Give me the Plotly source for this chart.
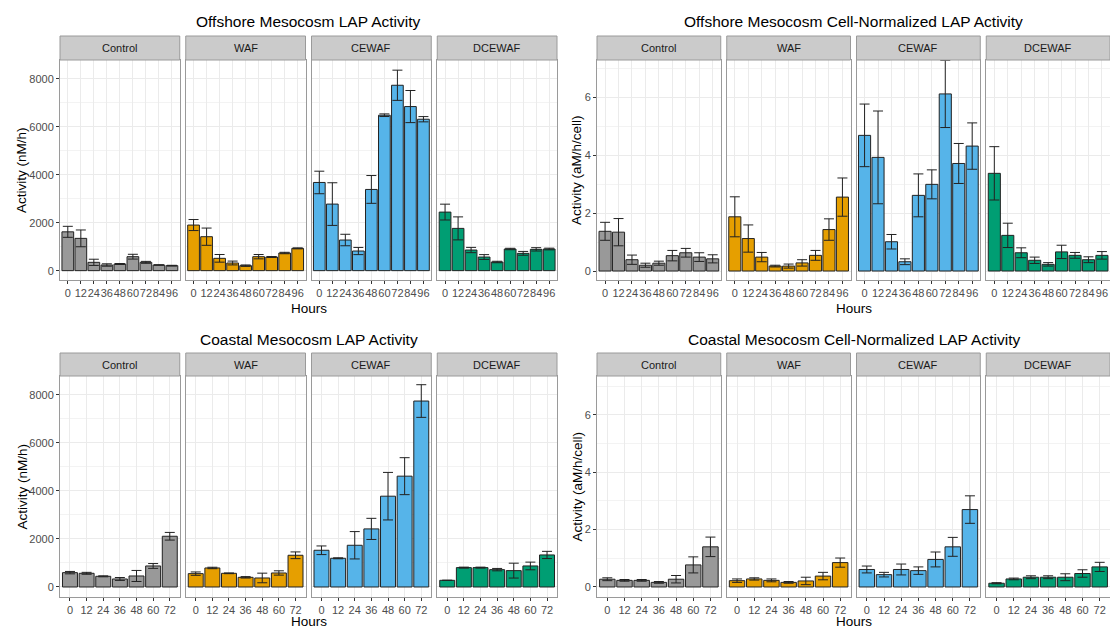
import plotly.graph_objects as go

W, H = 1110, 630

treatments = ["Control", "WAF", "CEWAF", "DCEWAF"]
bar_colors = ["#999999", "#E69F00", "#56B4E9", "#009E73"]

hours_offshore = ["0", "12", "24", "36", "48", "60", "72", "84", "96"]
hours_coastal = ["0", "12", "24", "36", "48", "60", "72"]

# Offshore LAP activity (nM/h)
off_lap_control = [1620, 1347, 347, 236, 278, 583, 347, 236, 208]
off_lap_control_se = [230, 350, 130, 50, 20, 100, 40, 10, 15]
off_lap_waf = [1903, 1417, 514, 319, 208, 583, 569, 736, 930]
off_lap_waf_se = [230, 360, 160, 80, 30, 90, 20, 30, 20]
off_lap_cewaf = [3680, 2778, 1278, 819, 3389, 6486, 7736, 6847, 6319]
off_lap_cewaf_se = [470, 890, 240, 150, 580, 55, 630, 670, 110]
off_lap_dcewaf = [2444, 1764, 861, 569, 361, 903, 722, 889, 903]
off_lap_dcewaf_se = [330, 480, 110, 100, 30, 30, 80, 70, 35]

# Offshore cell-normalized LAP activity (aM/h/cell)
off_norm_control = [1.37, 1.34, 0.39, 0.20, 0.27, 0.53, 0.63, 0.48, 0.42]
off_norm_control_se = [0.31, 0.47, 0.16, 0.07, 0.07, 0.18, 0.15, 0.15, 0.14]
off_norm_waf = [1.87, 1.12, 0.48, 0.17, 0.17, 0.28, 0.54, 1.43, 2.55]
off_norm_waf_se = [0.69, 0.47, 0.16, 0.03, 0.07, 0.11, 0.17, 0.37, 0.66]
off_norm_cewaf = [4.68, 3.92, 1.01, 0.32, 2.61, 2.99, 6.11, 3.71, 4.31]
off_norm_cewaf_se = [1.08, 1.60, 0.25, 0.10, 0.74, 0.50, 1.16, 0.69, 0.80]
off_norm_dcewaf = [3.37, 1.23, 0.63, 0.37, 0.23, 0.66, 0.54, 0.39, 0.54]
off_norm_dcewaf_se = [0.92, 0.42, 0.17, 0.11, 0.06, 0.23, 0.10, 0.10, 0.13]

# Coastal LAP activity (nM/h)
co_lap_control = [598, 570, 445, 334, 459, 876, 2114]
co_lap_control_se = [50, 40, 20, 60, 230, 100, 160]
co_lap_waf = [556, 793, 570, 403, 376, 584, 1321]
co_lap_waf_se = [70, 30, 15, 30, 200, 90, 140]
co_lap_cewaf = [1530, 1196, 1738, 2420, 3783, 4617, 7747]
co_lap_cewaf_se = [180, 20, 570, 440, 990, 770, 680]
co_lap_dcewaf = [278, 807, 807, 723, 682, 876, 1335]
co_lap_dcewaf_se = [0, 20, 20, 50, 310, 160, 150]

# Coastal cell-normalized LAP activity (aM/h/cell)
co_norm_control = [0.27, 0.23, 0.23, 0.16, 0.27, 0.77, 1.40]
co_norm_control_se = [0.05, 0.03, 0.03, 0.03, 0.13, 0.28, 0.34]
co_norm_waf = [0.22, 0.28, 0.23, 0.16, 0.21, 0.38, 0.85]
co_norm_waf_se = [0.06, 0.04, 0.05, 0.03, 0.13, 0.13, 0.16]
co_norm_cewaf = [0.61, 0.43, 0.61, 0.57, 0.96, 1.40, 2.70]
co_norm_cewaf_se = [0.12, 0.08, 0.19, 0.13, 0.26, 0.33, 0.48]
co_norm_dcewaf = [0.13, 0.28, 0.34, 0.34, 0.34, 0.47, 0.70]
co_norm_dcewaf_se = [0.02, 0.03, 0.05, 0.05, 0.12, 0.13, 0.16]

titles = ["Offshore Mesocosm LAP Activity",
          "Offshore Mesocosm Cell-Normalized LAP Activity",
          "Coastal Mesocosm LAP Activity",
          "Coastal Mesocosm Cell-Normalized LAP Activity"]
y_titles = ["Activity (nM/h)", "Activity (aM/h/cell)",
            "Activity (nM/h)", "Activity (aM/h/cell)"]
x_title = "Hours"

panels = [
    dict(title=titles[0], ytitle=y_titles[0], hours=hours_offshore,
         means=[off_lap_control, off_lap_waf, off_lap_cewaf, off_lap_dcewaf],
         errs=[off_lap_control_se, off_lap_waf_se, off_lap_cewaf_se, off_lap_dcewaf_se],
         left=60, right=557, strip_top=36, top=60, bottom=280, xt=28,
         yrange=[-390, 8790], dtick=2000, ytx=22),
    dict(title=titles[1], ytitle=y_titles[1], hours=hours_offshore,
         means=[off_norm_control, off_norm_waf, off_norm_cewaf, off_norm_dcewaf],
         errs=[off_norm_control_se, off_norm_waf_se, off_norm_cewaf_se, off_norm_dcewaf_se],
         left=597, right=1110, strip_top=36, top=60, bottom=280, xt=28,
         yrange=[-0.31, 7.28], dtick=2, ytx=577),
    dict(title=titles[2], ytitle=y_titles[2], hours=hours_coastal,
         means=[co_lap_control, co_lap_waf, co_lap_cewaf, co_lap_dcewaf],
         errs=[co_lap_control_se, co_lap_waf_se, co_lap_cewaf_se, co_lap_dcewaf_se],
         left=60, right=557, strip_top=353, top=376, bottom=597, xt=24,
         yrange=[-417, 8790], dtick=2000, ytx=22),
    dict(title=titles[3], ytitle=y_titles[3], hours=hours_coastal,
         means=[co_norm_control, co_norm_waf, co_norm_cewaf, co_norm_dcewaf],
         errs=[co_norm_control_se, co_norm_waf_se, co_norm_cewaf_se, co_norm_dcewaf_se],
         left=597, right=1110, strip_top=353, top=376, bottom=597, xt=24,
         yrange=[-0.35, 7.36], dtick=2, ytx=577),
]

FONT = "Liberation Sans, Arial, sans-serif"
GRID = "#EBEBEB"
BORDER = "#9A9A9A"

def px(x):
    return x / W

def py(y):
    return 1 - y / H

fig = go.Figure()
layout = {}
shapes = []
annotations = []
gap = 6
k = 0
for p in panels:
    n = len(p["hours"])
    fw = (p["right"] - p["left"] - 3 * gap) / 4
    for j, tr in enumerate(treatments):
        k += 1
        x0 = p["left"] + j * (fw + gap)
        x1 = x0 + fw
        xa = "xaxis" if k == 1 else f"xaxis{k}"
        ya = "yaxis" if k == 1 else f"yaxis{k}"
        xr = "x" if k == 1 else f"x{k}"
        yr = "y" if k == 1 else f"y{k}"
        fig.add_trace(go.Bar(
            x=p["hours"], y=p["means"][j], xaxis=xr, yaxis=yr,
            width=0.9,
            marker=dict(color=bar_colors[j], line=dict(color="#222222", width=1)),
            error_y=dict(type="data", array=p["errs"][j], color="#222222",
                         thickness=1, width=5),
            showlegend=False, hoverinfo="x+y",
        ))
        layout[xa] = dict(
            domain=[px(x0), px(x1)], anchor=yr, type="category",
            categoryorder="array", categoryarray=p["hours"],
            range=[-0.6, n - 0.4], showgrid=True, gridcolor=GRID, gridwidth=1,
            showline=True, mirror=True, linecolor=BORDER, linewidth=1,
            ticks="outside", ticklen=3, tickcolor="#333333", tickangle=0,
            tickfont=dict(family=FONT, size=11, color="#4D4D4D"),
            zeroline=False, fixedrange=True,
        )
        layout[ya] = dict(
            domain=[py(p["bottom"]), py(p["top"])], anchor=xr,
            range=p["yrange"], tick0=0, dtick=p["dtick"],
            showgrid=True, gridcolor=GRID, gridwidth=1,
            minor=dict(dtick=p["dtick"] / 2, showgrid=True, gridcolor="#F3F3F3", gridwidth=1),
            showline=True, mirror=True, linecolor=BORDER, linewidth=1,
            ticks="outside" if j == 0 else "", ticklen=3, tickcolor="#333333",
            showticklabels=(j == 0),
            tickfont=dict(family=FONT, size=11, color="#4D4D4D"),
            zeroline=False, fixedrange=True,
        )
        # strip
        shapes.append(dict(type="rect", xref="paper", yref="paper",
                           x0=px(x0), x1=px(x1), y0=py(p["top"]), y1=py(p["strip_top"]),
                           fillcolor="#CBCBCB", line=dict(color=BORDER, width=1), layer="above"))
        annotations.append(dict(text=tr, xref="paper", yref="paper",
                                x=px((x0 + x1) / 2), y=py((p["top"] + p["strip_top"]) / 2),
                                showarrow=False, xanchor="center", yanchor="middle",
                                font=dict(family=FONT, size=11, color="#1A1A1A")))
    cx = (p["left"] + p["right"]) / 2
    annotations.append(dict(text=p["title"], xref="paper", yref="paper",
                            x=px(cx), y=py(p["strip_top"] - 14), showarrow=False,
                            xanchor="center", yanchor="middle",
                            font=dict(family=FONT, size=15.5, color="#000000")))
    annotations.append(dict(text=x_title, xref="paper", yref="paper",
                            x=px(cx), y=py(p["bottom"] + p["xt"]), showarrow=False,
                            xanchor="center", yanchor="middle",
                            font=dict(family=FONT, size=13.5, color="#000000")))
    annotations.append(dict(text=p["ytitle"], xref="paper", yref="paper",
                            x=px(p["ytx"]), y=py((p["top"] + p["bottom"]) / 2),
                            showarrow=False, textangle=-90,
                            xanchor="center", yanchor="middle",
                            font=dict(family=FONT, size=13.5, color="#000000")))

fig.update_layout(
    width=W, height=H, margin=dict(l=0, r=0, t=0, b=0),
    paper_bgcolor="white", plot_bgcolor="white",
    shapes=shapes, annotations=annotations, bargap=0.1,
    **layout,
)

fig.write_html("out.html")
